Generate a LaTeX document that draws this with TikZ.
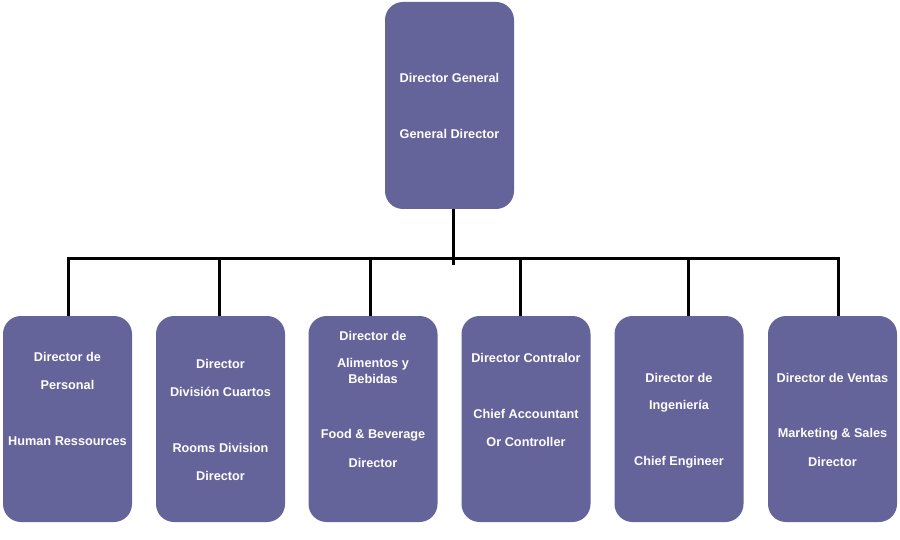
\documentclass[tikz,border=0pt]{standalone}
\usepackage{fontspec}
\setmainfont{Liberation Sans}
\definecolor{boxfill}{HTML}{64649A}
\begin{document}
\begin{tikzpicture}[x=1pt,y=-1pt,
  orgbox/.style={draw=none,fill=boxfill,rounded corners=18pt,minimum width=129pt,minimum height=206pt,inner sep=0pt},
  lbl/.style={text=white,font=\fontsize{12.7}{14}\selectfont\bfseries,inner sep=0pt,anchor=center},
  conn/.style={draw=black,line width=3pt}]
\fill[white] (0,0) rectangle (900,540);
\useasboundingbox (0,0) rectangle (900,540);

\node[orgbox,minimum height=207pt] (top) at (449.5,105.5) {};
\node[orgbox] (b1) at (67.5,419) {};
\node[orgbox] (b2) at (220.5,419) {};
\node[orgbox] (b3) at (373,419) {};
\node[orgbox] (b4) at (526,419) {};
\node[orgbox] (b5) at (679,419) {};
\node[orgbox] (b6) at (832.5,419) {};

% texts
\node[lbl] (t1) at (449.5,78) {Director General};
\node[lbl] (t2) at (449.5,134) {General Director};

\node[lbl] (a1) at (67.5,357) {Director de};
\node[lbl] (a2) at (67.5,385) {Personal};
\node[lbl] (a3) at (67.5,441) {Human Ressources};

\node[lbl] (c1) at (220.5,364) {Director};
\node[lbl] (c2) at (220.5,392) {División Cuartos};
\node[lbl] (c3) at (220.5,448) {Rooms Division};
\node[lbl] (c4) at (220.5,476) {Director};

\node[lbl] (d1) at (373,336) {Director de};
\node[lbl] (d2) at (373,364) {Alimentos y};
\node[lbl] (d3) at (373,379) {Bebidas};
\node[lbl] (d4) at (373,435) {Food \& Beverage};
\node[lbl] (d5) at (373,463) {Director};

\node[lbl] (e1) at (526,358) {Director Contralor};
\node[lbl] (e2) at (526,414) {Chief Accountant};
\node[lbl] (e3) at (526,442) {Or Controller};

\node[lbl] (f1) at (679,378) {Director de};
\node[lbl] (f2) at (679,406) {Ingeniería};
\node[lbl] (f3) at (679,462) {Chief Engineer};

\node[lbl] (g1) at (832.5,378) {Director de Ventas};
\node[lbl] (g2) at (832.5,434) {Marketing \& Sales};
\node[lbl] (g3) at (832.5,462) {Director};

% connectors
\coordinate (topfoot) at (453,209);
\coordinate (bus) at (453,265);
\coordinate (k1) at (68,259);
\coordinate (k2) at (219.5,259);
\coordinate (k3) at (370,259);
\coordinate (k4) at (520.5,259);
\coordinate (k5) at (688,259);
\coordinate (k6) at (838,259);

\draw[conn] (topfoot) -- (bus);
\draw[conn] (k1 |- b1.north) -- (k1) -- (k6) -- (k6 |- b6.north);
\draw[conn] (k2) -- (k2 |- b2.north);
\draw[conn] (k3) -- (k3 |- b3.north);
\draw[conn] (k4) -- (k4 |- b4.north);
\draw[conn] (k5) -- (k5 |- b5.north);
\end{tikzpicture}
\end{document}
